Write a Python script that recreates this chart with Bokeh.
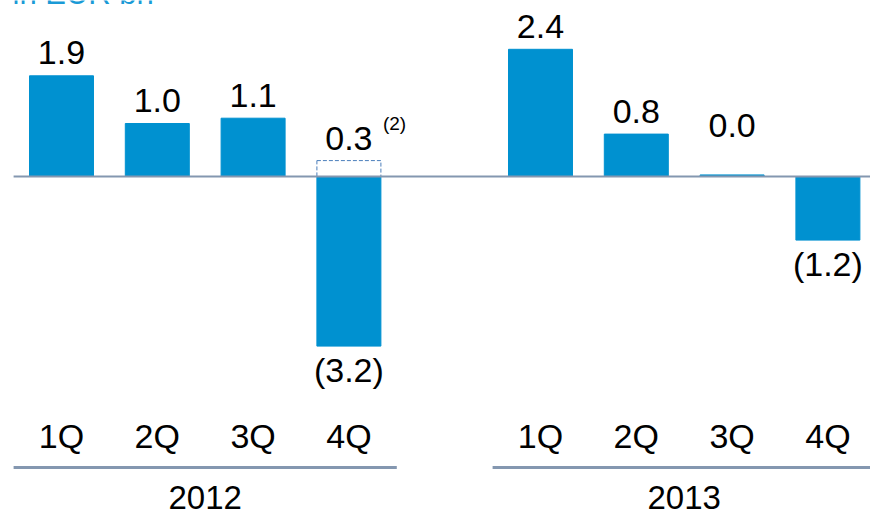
from bokeh.plotting import figure
from bokeh.models import Range1d, ColumnDataSource
from bokeh.core.properties import value
from bokeh.embed import file_html
from bokeh.resources import INLINE

# ---- data ----
unit_label = "in EUR bn"
years = ["2012", "2013"]
quarters = ["1Q", "2Q", "3Q", "4Q"]
values_2012 = [1.9, 1.0, 1.1, -3.2]
values_2013 = [2.4, 0.8, 0.03, -1.2]
adjust_2012 = [0.0, 0.0, 0.0, 0.3]   # dashed adjustment box (note 2)
adjust_note = "(2)"

# ---- layout helpers ----
BLUE = "#0091D0"
TITLE_BLUE = "#1A9AD6"
LINE = "#8497B0"
FONT = value("Liberation Sans")
gap = 5  # index of first quarter of second year
CORR = -10  # baseline correction (px)

x_pos, vals, cats = [], [], []
for g, vs in enumerate([values_2012, values_2013]):
    for i, v in enumerate(vs):
        x_pos.append(i + g * gap)
        vals.append(v)
        cats.append(quarters[i])

px_per_x = 95.8
px_per_y = 53.0
W, H = 870, 515
x0 = -61 / px_per_x
x1 = x0 + W / px_per_x
y1 = 176 / px_per_y
y0 = y1 - H / px_per_y

def ypix(page_y):
    return y1 - page_y / px_per_y

def xpix(page_x):
    return x0 + page_x / px_per_x

p = figure(width=W, height=H, x_range=Range1d(x0, x1), y_range=Range1d(y0, y1),
           output_backend="svg", toolbar_location=None, min_border=0,
           x_axis_type=None, y_axis_type=None, outline_line_color=None)
p.grid.visible = False

bw = 0.668
src = ColumnDataSource(dict(x=x_pos, top=[max(v, 0) for v in vals],
                            bottom=[min(v, 0) for v in vals]))
p.vbar(x="x", width=bw, top="top", bottom="bottom", source=src,
       fill_color=BLUE, line_color=BLUE, line_width=1)

# adjustment dashed box
adj_x = [x_pos[i] for i, a in enumerate(adjust_2012) if a > 0]
adj_v = [a for a in adjust_2012 if a > 0]
p.vbar(x=adj_x, width=bw, top=adj_v, bottom=0, fill_color=None,
       line_color="#4A7EBB", line_width=1, line_dash="4 2")

# zero line
p.segment(x0=[-0.5], y0=[0], x1=[x1], y1=[0], line_color=LINE, line_width=2)

# value labels
lab_txt, lab_x, lab_y, lab_off = [], [], [], []
for x, v in zip(x_pos, vals):
    if v < 0:
        lab_txt.append(f"({abs(v):.1f})")
        lab_off.append(34 + CORR)
    else:
        lab_txt.append(f"{v:.1f}")
        lab_off.append((-13 if v >= 0.1 else -39) + CORR)
    lab_x.append(x)
    lab_y.append(v)
for x, a in zip(adj_x, adj_v):
    lab_txt.append(f"{a:.1f}")
    lab_x.append(x)
    lab_y.append(a)
    lab_off.append(-12 + CORR)
lsrc = ColumnDataSource(dict(x=lab_x, y=lab_y, text=lab_txt, off=lab_off))
p.text(x="x", y="y", text="text", y_offset="off", source=lsrc,
       text_font=FONT, text_font_size="34px", text_align="center",
       text_baseline="alphabetic", text_color="#000000")

# superscript note
p.text(x=adj_x, y=adj_v, text=[adjust_note], x_offset=34, y_offset=-37,
       text_font=FONT, text_font_size="19px", text_align="left",
       text_baseline="alphabetic", text_color="#000000")

# quarter labels
p.text(x=x_pos, y=[ypix(445)] * len(x_pos), text=cats, y_offset=CORR,
       text_font=FONT, text_font_size="34px", text_align="center",
       text_baseline="alphabetic", text_color="#000000")

# group underlines and year labels
gx0 = [g * gap - 0.5 for g in range(len(years))]
gx1 = [g * gap + len(quarters) - 0.5 for g in range(len(years))]
p.segment(x0=gx0, y0=[ypix(467)] * 2, x1=gx1, y1=[ypix(467)] * 2,
          line_color=LINE, line_width=3)
p.text(x=[(a + b) / 2 for a, b in zip(gx0, gx1)], y=[ypix(507)] * 2, text=years,
       y_offset=CORR, text_font=FONT, text_font_size="33px", text_align="center",
       text_baseline="alphabetic", text_color="#000000")

# unit label (clipped at the top like the reference)
p.text(x=[xpix(12)], y=[ypix(2)], text=[unit_label], y_offset=-9,
       text_font=FONT, text_font_size="31px", text_align="left",
       text_baseline="alphabetic", text_color=TITLE_BLUE)

open("out.html", "w").write(file_html(p, INLINE))
